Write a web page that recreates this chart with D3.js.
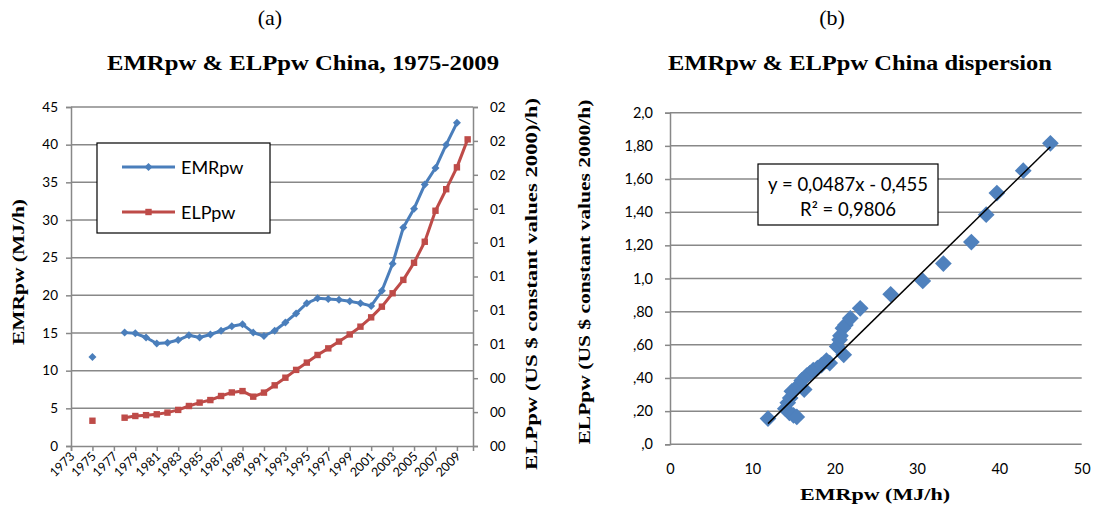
<!DOCTYPE html>
<html>
<head>
<meta charset="utf-8">
<script src="https://cdnjs.cloudflare.com/ajax/libs/d3/7.8.5/d3.min.js"></script>
<style>
  body { margin: 0; background: #fff; }
  svg { display: block; }
  .tick-lbl { font-family: Lato, "Open Sans", sans-serif; font-size: 13px; fill: #000; }
  .serif { font-family: "Liberation Serif", "DejaVu Serif", serif; fill: #000; }
</style>
</head>
<body>
<svg id="chart" width="1097" height="509"></svg>
<script>
// ---- data (a): yearly series, null = no value
const years = d3.range(1975, 2011);
const emr = [11.8, null, null, 15.05, 14.96, 14.4, 13.6, 13.7, 14.07, 14.7, 14.4, 14.8, 15.3, 15.9, 16.15,
  15.05, 14.6, 15.3, 16.4, 17.6, 18.95, 19.6, 19.5, 19.4, 19.2, 18.95, 18.6, 20.6, 24.2, 29.0, 31.5,
  34.7, 36.9, 40.0, 42.9, null];
const elp = [0.149, null, null, 0.167, 0.177, 0.182, 0.187, 0.197, 0.213, 0.236, 0.256, 0.271, 0.295, 0.316, 0.324,
  0.291, 0.315, 0.358, 0.403, 0.449, 0.492, 0.537, 0.576, 0.616, 0.658, 0.704, 0.759, 0.822, 0.901, 0.98, 1.081,
  1.205, 1.388, 1.515, 1.644, 1.809];
const leftTicks = d3.range(0, 46, 5);
const rightTickVals = d3.range(0, 2.01, 0.2);
const rightTickLabels = ["00", "00", "00", "01", "01", "01", "01", "01", "02", "02", "02"];
const yearTicks = d3.range(1973, 2010, 2);

// ---- data (b): dispersion
const scatterX = [11.9, 14.0, 14.5, 15.0, 15.4, 14.3, 14.6, 14.8, 15.5, 16.0, 16.3, 16.6, 17.0, 17.4, 17.9, 18.4,
  19.0, 19.4, 21.1, 20.3, 20.6, 20.7, 21.0, 21.3, 21.9, 23.1, 26.8, 30.7, 33.2, 36.6, 38.4, 39.7, 42.9, 46.2];
const scatterY = [0.155, 0.215, 0.19, 0.175, 0.165, 0.25, 0.28, 0.32, 0.35, 0.385, 0.33, 0.415, 0.43, 0.448, 0.46, 0.478,
  0.505, 0.49, 0.54, 0.59, 0.63, 0.655, 0.70, 0.72, 0.76, 0.82, 0.905, 0.985, 1.09, 1.22, 1.385, 1.515, 1.65, 1.815];
const trend = { slope: 0.0487, intercept: -0.455 };
const scatterYTicks = d3.range(0, 2.01, 0.2);
const scatterYLabels = [",0", ",20", ",40", ",60", ",80", "1,0", "1,20", "1,40", "1,60", "1,80", "2,0"];
const scatterXTicks = [0, 10, 20, 30, 40, 50];

const blue = "#4A7EBB", red = "#BE4B48", grid = "#888888";
const svg = d3.select("#chart");

function styleAxis(g, size) {
  g.selectAll("path, line").attr("stroke", grid).attr("stroke-width", 1.5);
  g.selectAll("text").attr("class", "tick-lbl").attr("font-size", null).attr("font-family", null)
    .style("font-size", size + "px");
}

// ================= chart (a) =================
const xA = d3.scaleLinear().domain([1973, 2010.5]).range([71, 473]);
const yA = d3.scaleLinear().domain([0, 45]).range([446, 107]);
const yA2 = d3.scaleLinear().domain([0, 2]).range([446, 107]);

const gA = svg.append("g");
gA.selectAll("line.grid").data(leftTicks.slice(1)).join("line")
  .attr("x1", 71).attr("x2", 473).attr("y1", d => yA(d)).attr("y2", d => yA(d))
  .attr("stroke", grid).attr("stroke-width", 1.5);

// left axis
gA.append("g").attr("transform", "translate(71,0)")
  .call(d3.axisLeft(yA).tickValues(leftTicks).tickSize(5).tickPadding(8))
  .call(g => styleAxis(g, 13.5));
// right axis
gA.append("g").attr("transform", "translate(473,0)")
  .call(d3.axisRight(yA2).tickValues(rightTickVals).tickSize(5).tickPadding(12)
    .tickFormat((d, i) => rightTickLabels[i]))
  .call(g => styleAxis(g, 13.5));
// bottom axis
gA.append("g").attr("transform", "translate(0,446)")
  .call(d3.axisBottom(xA).tickValues(yearTicks).tickSize(5).tickFormat(d3.format("d")))
  .call(g => { styleAxis(g, 12.5);
    g.selectAll("text").attr("text-anchor", "end").attr("dy", null).attr("y", 0)
      .attr("transform", "translate(4,11) rotate(-45)"); });

const lineE = d3.line().defined(d => d[1] != null).x(d => xA(d[0])).y(d => yA(d[1]));
const lineL = d3.line().defined(d => d[1] != null).x(d => xA(d[0])).y(d => yA2(d[1]));
const emrPts = years.map((y, i) => [y, emr[i]]);
const elpPts = years.map((y, i) => [y, elp[i]]);

gA.append("path").datum(elpPts).attr("d", lineL).attr("fill", "none")
  .attr("stroke", red).attr("stroke-width", 3).attr("stroke-linejoin", "round");
gA.selectAll("rect.m").data(elpPts.filter(d => d[1] != null)).join("rect")
  .attr("x", d => xA(d[0]) - 3.2).attr("y", d => yA2(d[1]) - 3.2)
  .attr("width", 6.4).attr("height", 6.4).attr("fill", red);

gA.append("path").datum(emrPts).attr("d", lineE).attr("fill", "none")
  .attr("stroke", blue).attr("stroke-width", 3).attr("stroke-linejoin", "round");
const diamond = d3.symbol().type(d3.symbolSquare);
gA.selectAll("path.m").data(emrPts.filter(d => d[1] != null)).join("path")
  .attr("d", diamond.size(32))
  .attr("transform", d => `translate(${xA(d[0])},${yA(d[1])}) rotate(45)`)
  .attr("fill", blue);

// legend
const lg = gA.append("g");
lg.append("rect").attr("x", 97).attr("y", 143).attr("width", 173).attr("height", 90)
  .attr("fill", "#fff").attr("stroke", "#000").attr("stroke-width", 1.2);
[[blue, "EMRpw", 167], [red, "ELPpw", 212]].forEach(([c, t, y], i) => {
  lg.append("line").attr("x1", 122).attr("x2", 175).attr("y1", y).attr("y2", y)
    .attr("stroke", c).attr("stroke-width", 3);
  if (i === 0) lg.append("path").attr("d", diamond.size(32)).attr("transform", `translate(148.5,${y}) rotate(45)`).attr("fill", c);
  else lg.append("rect").attr("x", 145.3).attr("y", y - 3.2).attr("width", 6.4).attr("height", 6.4).attr("fill", c);
  lg.append("text").attr("x", 181).attr("y", y + 6.5).attr("class", "tick-lbl")
    .style("font-size", "18px").text(t);
});

// titles (a)
svg.append("text").attr("class", "serif").attr("x", 270).attr("y", 25).attr("text-anchor", "middle")
  .style("font-size", "22px").text("(a)");
svg.append("text").attr("class", "serif").attr("x", 303).attr("y", 70).attr("text-anchor", "middle")
  .style("font-size", "21px").style("font-weight", "bold")
  .attr("textLength", 392).attr("lengthAdjust", "spacingAndGlyphs").text("EMRpw & ELPpw China, 1975-2009");
svg.append("text").attr("class", "serif").attr("transform", "translate(24,272) rotate(-90)")
  .attr("text-anchor", "middle").style("font-size", "17px").style("font-weight", "bold")
  .attr("textLength", 146).attr("lengthAdjust", "spacingAndGlyphs").text("EMRpw (MJ/h)");
svg.append("text").attr("class", "serif").attr("transform", "translate(537,284) rotate(-90)")
  .attr("text-anchor", "middle").style("font-size", "17px").style("font-weight", "bold")
  .attr("textLength", 372).attr("lengthAdjust", "spacingAndGlyphs").text("ELPpw (US $ constant values 2000)/h)");

// ================= chart (b) =================
const xB = d3.scaleLinear().domain([0, 50]).range([670, 1081.7]);
const yB = d3.scaleLinear().domain([0, 2]).range([444.3, 112.7]);
const gB = svg.append("g");

gB.selectAll("line.grid").data(scatterYTicks).join("line")
  .attr("x1", 670).attr("x2", 1081.7).attr("y1", d => yB(d)).attr("y2", d => yB(d))
  .attr("stroke", grid).attr("stroke-width", 1.5);
gB.append("g").attr("transform", "translate(670,0)")
  .call(d3.axisLeft(yB).tickValues(scatterYTicks).tickSize(5).tickPadding(12)
    .tickFormat((d, i) => scatterYLabels[i]))
  .call(g => styleAxis(g, 14.5));
gB.append("g").attr("transform", "translate(0,444.3)")
  .call(d3.axisBottom(xB).tickValues(scatterXTicks).tickSize(0).tickPadding(19))
  .call(g => { g.select(".domain").remove(); styleAxis(g, 14.5); });

const pts = scatterX.map((x, i) => [x, scatterY[i]]);
gB.selectAll("path.pt").data(pts).join("path")
  .attr("d", d3.symbol().type(d3.symbolSquare).size(140))
  .attr("transform", d => `translate(${xB(d[0])},${yB(d[1])}) rotate(45)`)
  .attr("fill", "#4F81BD");

const [xMin, xMax] = d3.extent(scatterX);
gB.append("line")
  .attr("x1", xB(xMin)).attr("y1", yB(trend.slope * xMin + trend.intercept))
  .attr("x2", xB(xMax)).attr("y2", yB(trend.slope * xMax + trend.intercept))
  .attr("stroke", "#000").attr("stroke-width", 1.5);

gB.append("rect").attr("x", 758).attr("y", 164).attr("width", 180).attr("height", 61)
  .attr("fill", "#fff").attr("stroke", "#000").attr("stroke-width", 1.2);
gB.append("text").attr("class", "tick-lbl").attr("x", 848).attr("y", 191).attr("text-anchor", "middle")
  .style("font-size", "18.5px").text("y = 0,0487x - 0,455");
gB.append("text").attr("class", "tick-lbl").attr("x", 848).attr("y", 216).attr("text-anchor", "middle")
  .style("font-size", "18.5px").text("R² = 0,9806");

svg.append("text").attr("class", "serif").attr("x", 832).attr("y", 25).attr("text-anchor", "middle")
  .style("font-size", "22px").text("(b)");
svg.append("text").attr("class", "serif").attr("x", 860).attr("y", 70).attr("text-anchor", "middle")
  .style("font-size", "21px").style("font-weight", "bold")
  .attr("textLength", 384).attr("lengthAdjust", "spacingAndGlyphs").text("EMRpw & ELPpw China dispersion");
svg.append("text").attr("class", "serif").attr("x", 875).attr("y", 500).attr("text-anchor", "middle")
  .style("font-size", "17px").style("font-weight", "bold")
  .attr("textLength", 150).attr("lengthAdjust", "spacingAndGlyphs").text("EMRpw (MJ/h)");
svg.append("text").attr("class", "serif").attr("transform", "translate(590,272) rotate(-90)")
  .attr("text-anchor", "middle").style("font-size", "17px").style("font-weight", "bold")
  .attr("textLength", 345).attr("lengthAdjust", "spacingAndGlyphs").text("ELPpw (US $ constant values 2000/h)");
</script>
</body>
</html>
